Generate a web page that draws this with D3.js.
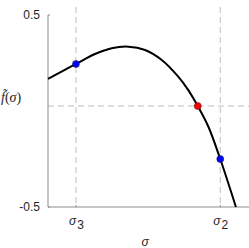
<!DOCTYPE html>
<html>
<head>
<script src="https://d3js.org/d3.v7.min.js"></script>
<style>
  body { margin: 0; background: #fff; }
  text { font-family: "Liberation Sans", Arial, sans-serif; }
</style>
</head>
<body>
<div id="chart"></div>
<script>
// curve samples (sigma in plot units, f in axis units)
var curveX = [0, 0.139, 0.234, 0.317, 0.400, 0.483, 0.566, 0.648, 0.698, 0.745, 0.798, 0.857, 0.935];
var curveY = [0.167, 0.245, 0.297, 0.327, 0.335, 0.318, 0.266, 0.179, 0.109, 0.026, -0.082, -0.250, -0.5];

// marked points
var dotX = [0.139, 0.745, 0.857];
var dotY = [0.245, 0.026, -0.250];
var dotColor = ["#0000ff", "#ff0000", "#0000ff"];

var sigmaTicks = [0.139, 0.857];
var sigmaSubs = ["3", "2"];
var yTicks = [0.5, -0.5];
var yTickLabels = ["0.5", "-0.5"];
var zeroLine = 0.026;

var W = 249, H = 248;
var svg = d3.select("#chart").append("svg")
    .attr("width", W)
    .attr("height", H);

var x = d3.scaleLinear().domain([0, 1]).range([48, 249]);
var y = d3.scaleLinear().domain([-0.5, 0.5]).range([207, 15]);

// dashed guides
svg.selectAll(".vguide")
    .data(sigmaTicks)
    .enter().append("line")
    .attr("x1", function(d){ return x(d) })
    .attr("x2", function(d){ return x(d) })
    .attr("y1", 7)
    .attr("y2", y(-0.5))
    .attr("stroke", "#bdbdbd")
    .attr("stroke-width", 1)
    .attr("stroke-dasharray", "6,4");

svg.append("line")
    .attr("x1", x(0)).attr("x2", W)
    .attr("y1", y(zeroLine)).attr("y2", y(zeroLine))
    .attr("stroke", "#bdbdbd")
    .attr("stroke-width", 1)
    .attr("stroke-dasharray", "6,4");

// axes
svg.append("line")
    .attr("x1", x(0)).attr("x2", x(0))
    .attr("y1", y(0.5)).attr("y2", y(-0.5))
    .attr("stroke", "#8c8c8c");
svg.append("line")
    .attr("x1", x(0)).attr("x2", W)
    .attr("y1", y(-0.5)).attr("y2", y(-0.5))
    .attr("stroke", "#8c8c8c");

svg.selectAll(".ytick")
    .data(yTicks)
    .enter().append("line")
    .attr("x1", x(0)).attr("x2", x(0) + 2)
    .attr("y1", function(d){ return y(d) })
    .attr("y2", function(d){ return y(d) })
    .attr("stroke", "#8c8c8c");

svg.selectAll(".ylab")
    .data(yTicks)
    .enter().append("text")
    .attr("x", 40)
    .attr("y", function(d){ return y(d) + 4 })
    .attr("text-anchor", "end")
    .attr("font-size", 12)
    .attr("fill", "#262626")
    .text(function(d, i){ return yTickLabels[i] });

svg.selectAll(".xtick")
    .data(sigmaTicks)
    .enter().append("line")
    .attr("x1", function(d){ return x(d) })
    .attr("x2", function(d){ return x(d) })
    .attr("y1", y(-0.5)).attr("y2", y(-0.5) - 2)
    .attr("stroke", "#8c8c8c");

var xl = svg.selectAll(".xlab")
    .data(sigmaTicks)
    .enter().append("text")
    .attr("x", function(d){ return x(d) - 7 })
    .attr("y", 225)
    .attr("font-size", 12)
    .attr("fill", "#262626");
xl.append("tspan").attr("font-style", "italic").text("σ");
xl.append("tspan").attr("dx", 1).attr("dy", 4).text(function(d, i){ return sigmaSubs[i] });

// axis titles
svg.append("text")
    .attr("x", 145)
    .attr("y", 246)
    .attr("text-anchor", "middle")
    .attr("font-size", 12)
    .attr("font-style", "italic")
    .attr("fill", "#262626")
    .text("σ");

var yt = svg.append("text")
    .attr("x", 1)
    .attr("y", 102)
    .attr("font-size", 14)
    .attr("fill", "#262626")
    .style("font-family", "'Liberation Serif', serif");
yt.append("tspan").attr("font-style", "italic").text("f\u0303");
yt.append("tspan").text("(");
yt.append("tspan").attr("font-style", "italic").text("σ");
yt.append("tspan").text(")");

// curve
var pts = curveX.map(function(d, i){ return [d, curveY[i]] });
var line = d3.line()
    .x(function(d){ return x(d[0]) })
    .y(function(d){ return y(d[1]) })
    .curve(d3.curveCatmullRom);

svg.append("path")
    .datum(pts)
    .attr("d", line)
    .attr("fill", "none")
    .attr("stroke", "#000")
    .attr("stroke-width", 2);

svg.selectAll(".dot")
    .data(dotX)
    .enter().append("circle")
    .attr("cx", function(d){ return x(d) })
    .attr("cy", function(d, i){ return y(dotY[i]) })
    .attr("r", 3.5)
    .attr("fill", function(d, i){ return dotColor[i] })
    .attr("stroke", "#222")
    .attr("stroke-width", 0.5);
</script>
</body>
</html>
